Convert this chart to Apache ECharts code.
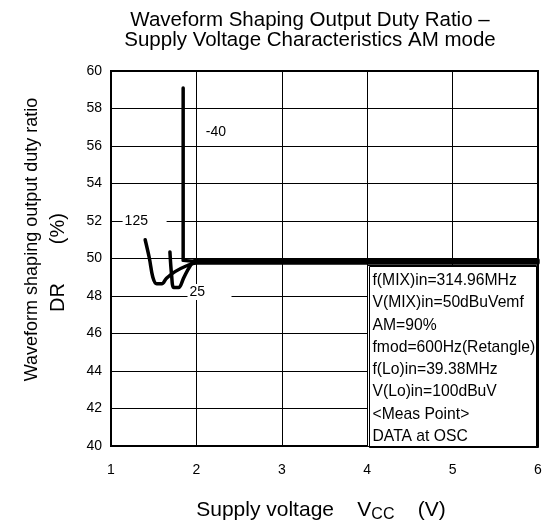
<!DOCTYPE html>
<html>
<head>
<meta charset="utf-8">
<script src="https://cdn.jsdelivr.net/npm/echarts@6/dist/echarts.min.js"></script>
<style>
  html, body { margin: 0; padding: 0; background: #fff; }
  #chart { width: 545px; height: 528px; }
</style>
</head>
<body>
<div id="chart"></div>
<script>
// Supply voltage (V) vs. duty ratio (%) for each ambient temperature
const curve125 = [[1.40, 51.0], [1.45, 50.0], [1.49, 49.0], [1.535, 48.65], [1.595, 48.65], [1.65, 48.95], [1.75, 49.3], [1.88, 49.6], [2.0, 49.76], [6.0, 49.76]];
const curve25 = [[1.69, 50.35], [1.71, 49.1], [1.735, 48.45], [1.79, 48.45], [1.85, 48.95], [1.92, 49.55], [2.0, 49.92], [6.0, 49.92]];
const curveMinus40 = [[1.845, 59.1], [1.845, 49.9], [2.0, 49.84], [6.0, 49.84]];

// Curve tags: [voltage, duty ratio] at the left edge of each tag
const tag125 = [1.13, 52.0];
const tag25 = [1.89, 48.22];
const tagMinus40 = [2.08, 56.76];

const xTicks = { min: 1, max: 6, step: 1 };
const yTicks = { min: 40, max: 60, step: 2 };

const conditions = [
  'f(MIX)in=314.96MHz',
  'V(MIX)in=50dBuVemf',
  'AM=90%',
  'fmod=600Hz(Retangle)',
  'f(Lo)in=39.38MHz',
  'V(Lo)in=100dBuV',
  '<Meas Point>',
  'DATA at OSC'
];

const FONT = '"Liberation Sans", Arial, sans-serif';

const chart = echarts.init(document.getElementById('chart'), null, { renderer: 'canvas' });

function tagPoint(coord, name, withBg) {
  return {
    symbol: 'circle',
    symbolSize: 1,
    itemStyle: { color: 'rgba(0,0,0,0)' },
    data: [{ coord: coord, value: name }],
    label: {
      show: true,
      position: 'right',
      distance: 0,
      formatter: name,
      color: '#000',
      fontFamily: FONT,
      fontSize: 14,
      backgroundColor: withBg ? '#fff' : 'transparent',
      width: withBg ? 42 : undefined,
      align: 'left',
      padding: [1, 0, 1, 2]
    },
    animation: false
  };
}

function curveSeries(name, data, smooth, tag, withBg) {
  return {
    name: name,
    type: 'line',
    data: data,
    smooth: smooth,
    showSymbol: false,
    symbol: 'none',
    lineStyle: { color: '#000', width: 3.5, cap: 'round', join: 'round' },
    z: 5,
    markPoint: tagPoint(tag, name, withBg),
    animation: false
  };
}

chart.setOption({
  animation: false,
  backgroundColor: '#fff',
  title: {
    text: 'Waveform Shaping Output Duty Ratio –\nSupply Voltage Characteristics AM mode',
    left: 305,
    top: 5,
    textAlign: 'center',
    textStyle: { fontFamily: FONT, fontSize: 20.5, fontWeight: 'normal', color: '#000', lineHeight: 20.5 }
  },
  grid: {
    left: 111, top: 71, right: 7, bottom: 80,
    show: true, borderColor: '#000', borderWidth: 2, backgroundColor: 'transparent'
  },
  xAxis: {
    type: 'value',
    min: xTicks.min, max: xTicks.max, interval: xTicks.step,
    axisLine: { show: true, lineStyle: { color: '#000', width: 2 } },
    axisTick: { show: false },
    splitLine: { show: true, lineStyle: { color: '#000', width: 1 } },
    axisLabel: { color: '#000', fontFamily: FONT, fontSize: 14, margin: 17 },
    name: 'Supply voltage    V{sub|CC}    (V)',
    nameLocation: 'middle',
    nameGap: 51,
    nameTextStyle: {
      color: '#000', fontFamily: FONT, fontSize: 21, lineHeight: 26,
      padding: [0, 7, 0, 0],
      rich: { sub: { fontFamily: FONT, fontSize: 16, color: '#000', verticalAlign: 'bottom', lineHeight: 26, padding: [7, 0, 0, 0] } }
    }
  },
  yAxis: {
    type: 'value',
    min: yTicks.min, max: yTicks.max, interval: yTicks.step,
    axisLine: { show: true, lineStyle: { color: '#000', width: 2 } },
    axisTick: { show: false },
    splitLine: { show: true, lineStyle: { color: '#000', width: 1 } },
    axisLabel: { color: '#000', fontFamily: FONT, fontSize: 14, margin: 9 },
    name: '{a|Waveform shaping output duty ratio}\n{b|DR       (%)}',
    nameLocation: 'middle',
    nameRotate: 90,
    nameGap: 40,
    nameTextStyle: {
      color: '#000', fontFamily: FONT, fontSize: 18, lineHeight: 26,
      rich: {
        a: { fontFamily: FONT, fontSize: 18, color: '#000', lineHeight: 26, padding: [0, 0, 0, 38] },
        b: { fontFamily: FONT, fontSize: 20, color: '#000', lineHeight: 26, padding: [0, 8, 0, 0] }
      }
    }
  },
  series: [
    curveSeries('125', curve125, 0.35, tag125, true),
    curveSeries('25', curve25, 0.35, tag25, true),
    curveSeries('-40', curveMinus40, false, tagMinus40, false)
  ],
  graphic: [{
    type: 'group',
    left: 367,
    top: 265,
    z: 100,
    children: [
      {
        type: 'rect',
        z: 100,
        shape: { x: 0, y: 0, width: 169, height: 181 },
        style: { fill: '#fff', stroke: '#000', lineWidth: 1, shadowColor: '#000', shadowOffsetX: 2, shadowOffsetY: 1, shadowBlur: 0 }
      },
      {
        type: 'text',
        z: 101,
        x: 5,
        y: 4,
        style: {
          text: conditions.join('\n'),
          fontFamily: FONT,
          fontSize: 15.7,
          lineHeight: 22.3,
          fill: '#000'
        }
      }
    ]
  }]
});
</script>
</body>
</html>
